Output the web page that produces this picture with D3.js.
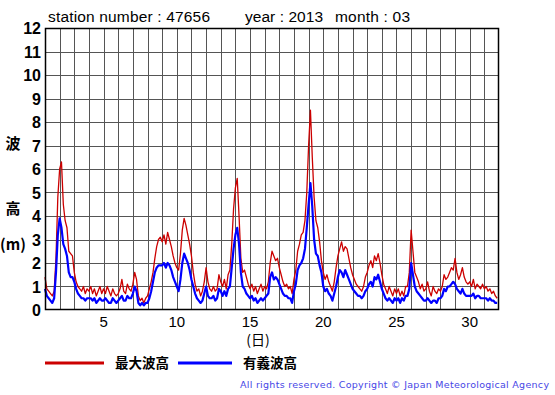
<!DOCTYPE html>
<html>
<head>
<meta charset="utf-8">
<script src="https://cdn.jsdelivr.net/npm/d3@7"></script>
<style>
body { margin: 0; background: #fff; }
svg { display: block; }
</style>
</head>
<body>
<div id="chart"></div>
<script>
// 3-hourly readings, 8 per day, March 2013
var maxWave = [
  1.4,0.9,0.8,0.7,0.6,0.8,2.2,4.8,   // 1
  6.0,6.3,4.5,3.8,3.5,2.5,2.4,2.3,   // 2
  1.6,1.2,1.0,0.9,0.8,1.0,0.7,0.9,   // 3
  0.8,1.0,0.7,0.9,0.6,0.8,1.0,0.7,   // 4
  0.9,0.7,1.0,0.8,0.6,0.9,0.7,0.6,   // 5
  0.7,0.9,1.3,0.8,0.7,1.1,0.9,0.8,   // 6
  1.1,1.6,1.3,0.6,0.4,0.5,0.3,0.5,   // 7
  0.6,0.9,1.2,1.6,2.2,2.7,3.0,3.1,   // 8
  2.9,3.2,2.8,3.3,3.0,2.7,2.3,2.0,   // 9
  1.8,1.7,2.4,3.4,3.9,3.6,3.2,2.8,   // 10
  2.3,1.6,1.1,0.8,0.9,0.6,0.8,1.2,   // 11
  1.8,1.2,0.9,0.8,1.0,0.8,0.9,1.5,   // 12
  1.2,1.0,1.3,0.9,1.5,1.7,2.8,4.3,   // 13
  5.2,5.6,4.0,2.2,1.6,1.7,1.4,1.1,   // 14
  0.9,1.1,0.8,1.0,0.7,0.9,1.1,0.8,   // 15
  1.0,0.9,1.2,2.0,2.5,2.3,2.1,2.2,   // 16
  1.8,1.5,1.2,1.0,1.1,0.9,1.0,0.7,   // 17
  1.3,1.7,2.5,2.8,3.2,3.3,3.8,5.0,   // 18
  7.0,8.5,6.5,4.8,3.8,3.5,2.9,2.1,   // 19
  1.6,1.3,1.5,1.2,1.0,0.8,1.2,1.8,   // 20
  2.3,2.6,2.9,2.5,2.7,2.6,2.2,1.8,   // 21
  1.5,1.3,1.1,1.0,0.9,0.8,1.0,1.4,   // 22
  1.6,1.9,2.1,1.8,2.3,2.1,2.4,2.0,   // 23
  1.5,1.1,0.9,0.7,1.0,0.8,0.6,0.9,   // 24
  0.7,0.9,0.6,0.8,0.6,1.0,1.0,1.6,   // 25
  3.4,2.5,1.6,1.4,1.2,0.9,1.1,0.8,   // 26
  0.9,1.2,0.8,0.6,1.0,0.8,0.7,0.9,   // 27
  0.8,1.0,1.5,1.3,1.4,1.6,1.8,1.7,   // 28
  2.2,1.6,1.3,1.5,1.8,1.4,1.2,1.1,   // 29
  1.2,1.0,1.3,0.9,1.1,1.0,0.9,1.1,   // 30
  0.9,1.0,0.8,0.9,0.7,0.8,0.6,0.5    // 31
];
var sigWave = [
  0.9,0.6,0.5,0.4,0.3,0.5,1.6,3.2,
  3.9,3.5,2.8,2.6,2.3,1.6,1.4,1.4,
  1.2,0.9,0.7,0.6,0.5,0.5,0.4,0.5,
  0.5,0.5,0.4,0.5,0.3,0.4,0.5,0.4,
  0.4,0.5,0.4,0.3,0.3,0.5,0.4,0.3,
  0.4,0.5,0.6,0.4,0.4,0.6,0.5,0.5,
  0.7,1.0,0.8,0.3,0.2,0.3,0.2,0.3,
  0.3,0.5,0.8,1.2,1.6,1.8,1.9,1.9,
  1.9,2.0,1.8,2.0,1.9,1.7,1.4,1.2,
  1.0,0.8,1.3,2.0,2.4,2.2,2.0,1.7,
  1.3,1.0,0.7,0.5,0.4,0.3,0.4,0.7,
  1.0,0.6,0.5,0.5,0.6,0.4,0.5,0.9,
  0.8,0.6,0.8,0.6,0.9,1.0,1.8,2.6,
  3.2,3.5,2.8,1.6,1.0,0.9,0.7,0.6,
  0.5,0.6,0.4,0.5,0.3,0.4,0.5,0.4,
  0.5,0.6,0.7,1.4,1.6,1.3,1.4,1.3,
  1.1,0.9,0.7,0.6,0.6,0.5,0.5,0.3,
  0.8,1.1,1.7,1.9,2.0,2.2,2.6,3.5,
  4.5,5.4,4.4,3.0,2.4,2.3,1.9,1.6,
  1.0,0.8,0.9,0.7,0.6,0.4,0.7,1.0,
  1.4,1.7,1.6,1.4,1.7,1.5,1.3,1.1,
  0.9,0.8,0.7,0.6,0.6,0.5,0.6,0.8,
  0.9,1.1,1.2,1.0,1.4,1.3,1.5,1.2,
  0.9,0.7,0.5,0.4,0.5,0.4,0.3,0.5,
  0.4,0.5,0.3,0.5,0.4,0.6,0.6,0.9,
  2.0,1.5,1.0,0.8,0.7,0.6,0.5,0.4,
  0.4,0.5,0.4,0.3,0.4,0.4,0.3,0.5,
  0.5,0.6,0.9,0.8,1.0,1.0,1.1,1.2,
  1.1,0.9,0.8,0.7,0.9,0.7,0.6,0.6,
  0.6,0.6,0.7,0.5,0.6,0.6,0.5,0.5,
  0.5,0.5,0.4,0.5,0.4,0.4,0.3,0.3
];
var xTicks = [5, 10, 15, 20, 25, 30];
var yTicks = d3.range(0, 13);
var legendNames = ["最大波高", "有義波高"];
var colors = ["#cc0000", "#0000ff"];

var svg = d3.select("#chart").append("svg")
  .attr("width", 555)
  .attr("height", 395);

var x = d3.scaleLinear().domain([1, 32]).range([45, 499]);
var y = d3.scaleLinear().domain([0, 12]).range([310, 28]);

// grid
svg.append("g").selectAll("line.v")
  .data(d3.range(2, 32))
  .enter().append("line")
    .attr("x1", function(d){ return Math.round(x(d)) + 0.5; })
    .attr("x2", function(d){ return Math.round(x(d)) + 0.5; })
    .attr("y1", 28).attr("y2", 310)
    .attr("stroke", "#555").attr("stroke-width", 1);

svg.append("g").selectAll("line.h")
  .data(d3.range(1, 12))
  .enter().append("line")
    .attr("y1", function(d){ return Math.round(y(d)) + 0.5; })
    .attr("y2", function(d){ return Math.round(y(d)) + 0.5; })
    .attr("x1", 45).attr("x2", 499)
    .attr("stroke", "#555").attr("stroke-width", 1);

function toPoints(arr) {
  return arr.map(function(v, i){ return [1 + i / 8, v]; });
}
var line = d3.line()
  .x(function(d){ return x(d[0]); })
  .y(function(d){ return y(d[1]); });

svg.append("path")
  .datum(toPoints(maxWave))
  .attr("d", line)
  .attr("fill", "none")
  .attr("stroke", colors[0])
  .attr("stroke-width", 1.3)
  .attr("stroke-linejoin", "round");

svg.append("path")
  .datum(toPoints(sigWave))
  .attr("d", line)
  .attr("fill", "none")
  .attr("stroke", colors[1])
  .attr("stroke-width", 2.2)
  .attr("stroke-linejoin", "round");

// frame
svg.append("rect")
  .attr("x", 45.5).attr("y", 28.5)
  .attr("width", 453).attr("height", 281)
  .attr("fill", "none")
  .attr("stroke", "#000")
  .attr("stroke-width", 1.5);

// y labels
svg.selectAll("text.yl")
  .data(yTicks)
  .enter().append("text")
    .attr("x", 41)
    .attr("y", function(d){ return y(d) + 6; })
    .attr("text-anchor", "end")
    .attr("font-family", "Liberation Sans, Arial, sans-serif")
    .attr("font-weight", "bold")
    .attr("font-size", 16)
    .text(function(d){ return d; });

// x labels
svg.selectAll("text.xl")
  .data(xTicks)
  .enter().append("text")
    .attr("x", function(d){ return x(d); })
    .attr("y", 327)
    .attr("text-anchor", "middle")
    .attr("font-family", "Liberation Sans, Arial, sans-serif")
    .attr("font-size", 15)
    .text(function(d){ return d; });

svg.append("text")
  .attr("x", 258).attr("y", 345)
  .attr("text-anchor", "middle")
  .attr("font-family", "Noto Sans CJK JP, sans-serif")
  .attr("font-size", 14)
  .text("(日)");

// y title
var ytitle = [["波", 143], ["高", 208], ["(m)", 244]];
svg.selectAll("text.yt")
  .data(ytitle)
  .enter().append("text")
    .attr("x", 13)
    .attr("y", function(d){ return d[1] + 6; })
    .attr("text-anchor", "middle")
    .attr("font-family", "Noto Sans CJK JP, sans-serif")
    .attr("font-weight", "bold")
    .attr("font-size", 15)
    .text(function(d){ return d[0]; });

// header
var header = [["station number : 47656", 48, 162], ["year : 2013", 245, 78], ["month : 03", 335, 75]];
svg.selectAll("text.hd")
  .data(header)
  .enter().append("text")
    .attr("x", function(d){ return d[1]; })
    .attr("y", 22)
    .attr("font-family", "Liberation Sans, Arial, sans-serif")
    .attr("font-size", 15.5)
    .attr("textLength", function(d){ return d[2]; })
    .attr("lengthAdjust", "spacing")
    .text(function(d){ return d[0]; });

// legend
var legX = [[45, 104, 115], [178, 232, 243]];
legendNames.forEach(function(n, i){
  svg.append("line")
    .attr("x1", legX[i][0]).attr("x2", legX[i][1])
    .attr("y1", 363).attr("y2", 363)
    .attr("stroke", colors[i]).attr("stroke-width", 3);
  svg.append("text")
    .attr("x", legX[i][2]).attr("y", 368)
    .attr("font-family", "Noto Sans CJK JP, sans-serif")
    .attr("font-weight", "bold")
    .attr("font-size", 13.5)
    .text(n);
});

svg.append("text")
  .attr("x", 549).attr("y", 388)
  .attr("text-anchor", "end")
  .attr("font-family", "DejaVu Sans, sans-serif")
  .attr("font-size", 9.5)
  .attr("textLength", 309)
  .attr("lengthAdjust", "spacing")
  .attr("fill", "#4646e6")
  .text("All rights reserved. Copyright © Japan Meteorological Agency");
</script>
</body>
</html>
